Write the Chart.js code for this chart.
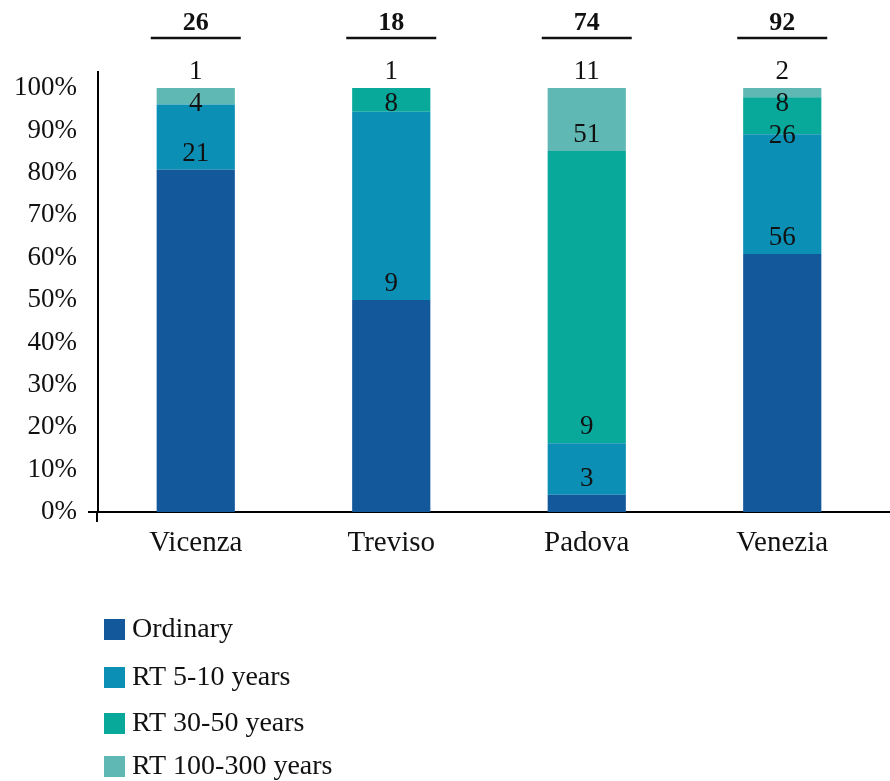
<!DOCTYPE html>
<html>
<head>
<meta charset="utf-8">
<script src="https://cdn.jsdelivr.net/npm/chart.js@4.4.1/dist/chart.umd.min.js"></script>
<style>
  html, body { margin: 0; padding: 0; background: #fff; }
</style>
</head>
<body>
<canvas id="returnTimes" width="890" height="781"></canvas>
<script>
const cities = ["Vicenza", "Treviso", "Padova", "Venezia"];
const seriesNames = ["Ordinary", "RT 5-10 years", "RT 30-50 years", "RT 100-300 years"];

// number of events per city and class
const ordinary = [21, 9, 3, 56];
const rt5to10 = [4, 8, 9, 26];
const rt30to50 = [0, 1, 51, 8];
const rt100to300 = [1, 0, 11, 2];

const percentTicks = [0, 10, 20, 30, 40, 50, 60, 70, 80, 90, 100];
const colors = ["#12589a", "#0b8fb5", "#08a89b", "#5fb8b3"];

const counts = [ordinary, rt5to10, rt30to50, rt100to300];
const totals = cities.map((c, i) => counts.reduce((s, arr) => s + arr[i], 0));

Chart.defaults.font.family = "'Liberation Serif', serif";
Chart.defaults.color = "#111";

// numbers above each segment, totals on top, axis ends and the legend
const annotate = {
    id: "annotate",
    afterDatasetsDraw(chart) {
        const ctx = chart.ctx;
        const area = chart.chartArea;
        ctx.save();

        ctx.textAlign = "center";
        ctx.textBaseline = "middle";
        ctx.fillStyle = "#111";
        ctx.font = "27px 'Liberation Serif'";
        cities.forEach((c, i) => {
            // walk down from the top segment, keeping labels apart
            let prevY = -Infinity;
            for (let di = counts.length - 1; di >= 0; di--) {
                const n = counts[di][i];
                if (!n) continue;
                const bar = chart.getDatasetMeta(di).data[i];
                const y = Math.max(bar.y - 16, prevY + 32);
                ctx.fillText(String(n), bar.x, y);
                prevY = y;
            }
        });

        ctx.font = "bold 26px 'Liberation Serif'";
        ctx.strokeStyle = "#111";
        ctx.lineWidth = 2.5;
        chart.getDatasetMeta(0).data.forEach((bar, i) => {
            ctx.fillText(String(totals[i]), bar.x, 23);
            ctx.beginPath();
            ctx.moveTo(bar.x - 45, 38);
            ctx.lineTo(bar.x + 45, 38);
            ctx.stroke();
        });

        // little overhang of the axes past the origin and to the right
        ctx.lineWidth = 2;
        ctx.strokeStyle = "#000";
        ctx.beginPath();
        ctx.moveTo(area.left - 10, area.bottom);
        ctx.lineTo(area.left, area.bottom);
        ctx.moveTo(area.right, area.bottom);
        ctx.lineTo(chart.width, area.bottom);
        ctx.moveTo(area.left - 1, area.bottom);
        ctx.lineTo(area.left - 1, area.bottom + 10);
        ctx.stroke();

        // legend as a single column
        ctx.textAlign = "left";
        ctx.font = "28px 'Liberation Serif'";
        const rows = [629, 677, 723, 766];
        seriesNames.forEach((name, k) => {
            ctx.fillStyle = colors[k];
            ctx.fillRect(104, rows[k] - 10, 21, 21);
            ctx.fillStyle = "#111";
            ctx.fillText(name, 132, rows[k] + 1);
        });
        ctx.restore();
    }
};

new Chart(document.getElementById("returnTimes"), {
    type: "bar",
    data: {
        labels: cities,
        datasets: counts.map((arr, k) => ({
            label: seriesNames[k],
            data: arr.map((v, i) => v / totals[i] * 100),
            backgroundColor: colors[k],
            barPercentage: 0.4,
            categoryPercentage: 1
        }))
    },
    options: {
        responsive: false,
        animation: false,
        layout: { padding: { top: 72, left: 16, right: 10, bottom: 221 } },
        plugins: {
            legend: { display: false },
            tooltip: { enabled: false }
        },
        scales: {
            x: {
                stacked: true,
                grid: { display: false, drawTicks: false },
                border: { color: "#000", width: 2 },
                afterFit: (scale) => { scale.height = 48; },
                ticks: { font: { size: 29 }, color: "#111", padding: 14 }
            },
            y: {
                stacked: true,
                min: 0,
                max: 103.8,
                grid: { display: false, drawTicks: false },
                border: { color: "#000", width: 2 },
                afterFit: (scale) => { scale.width = 82; },
                afterBuildTicks: (scale) => {
                    scale.ticks = percentTicks.map((v) => ({ value: v }));
                },
                ticks: {
                    font: { size: 27 },
                    color: "#111",
                    padding: 21,
                    callback: (v) => v + "%"
                }
            }
        }
    },
    plugins: [annotate]
});
</script>
</body>
</html>
